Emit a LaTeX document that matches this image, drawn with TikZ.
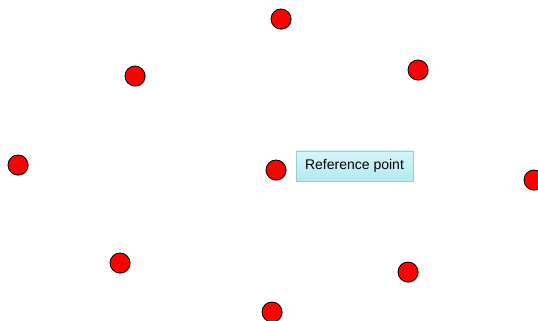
\documentclass[tikz,border=0pt]{standalone}
\usepackage{fontspec}
\setmainfont{Liberation Sans}
\usetikzlibrary{shadows}
\definecolor{dotred}{RGB}{255,0,0}
\definecolor{boxtop}{RGB}{214,245,249}
\definecolor{boxbot}{RGB}{178,234,240}
\definecolor{boxline}{RGB}{160,205,212}
\tikzset{
  pt/.style={circle, minimum size=20pt, inner sep=0pt, fill=dotred, draw=black, line width=0.8pt,
    drop shadow={shadow xshift=0.8pt, shadow yshift=-0.8pt, opacity=0.35, fill=black}},
  lbl/.style={rectangle, draw=boxline, line width=0.6pt, top color=boxtop, bottom color=boxbot,
    minimum width=117pt, minimum height=30pt, inner sep=0pt, font=\fontsize{14}{16}\selectfont,
    drop shadow={shadow xshift=1pt, shadow yshift=-1.5pt, opacity=0.25, fill=black}}
}
\begin{document}
\begin{tikzpicture}[x=1pt,y=1pt]
\useasboundingbox (0,0) rectangle (538,321);
\node[pt] (p1) at (281,302) {};
\node[pt] (p2) at (135,245) {};
\node[pt] (p3) at (418,251) {};
\node[pt] (p4) at (18,156) {};
\node[pt] (p5) at (276,151) {};
\node[pt] (p6) at (534,141) {};
\node[pt] (p7) at (120,58) {};
\node[pt] (p8) at (408,49) {};
\node[pt] (p9) at (272,9) {};
\node[lbl] (ref) at (354.5,155) {Reference point};
\end{tikzpicture}
\end{document}
